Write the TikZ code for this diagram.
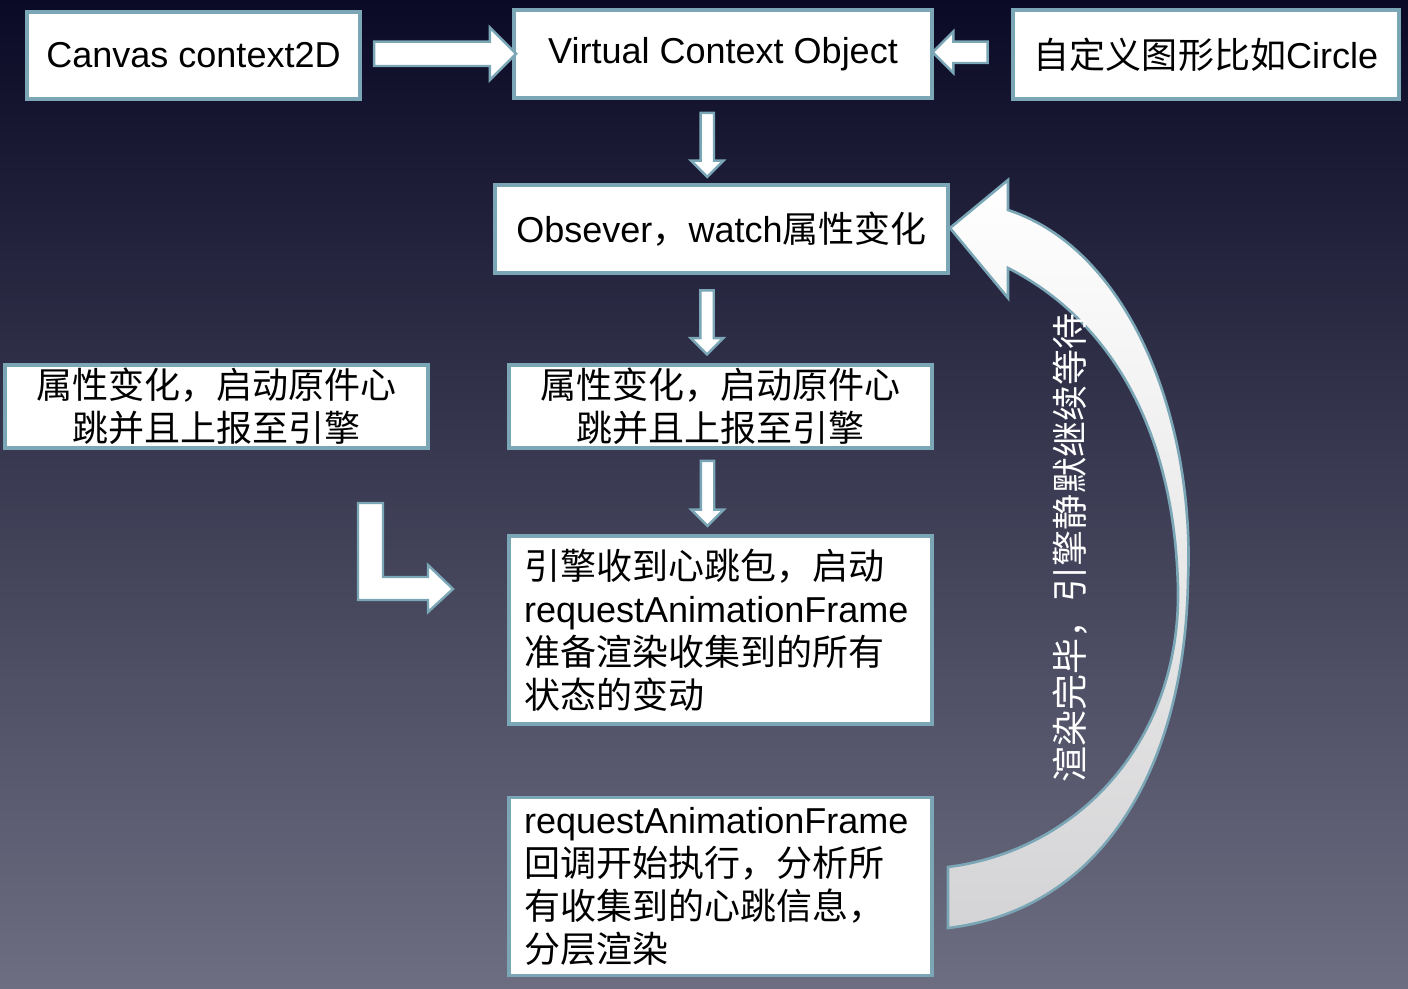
\documentclass[tikz,border=0pt]{standalone}
\usepackage{fontspec}
\setmainfont{Liberation Sans}
\newfontfamily\cjk{Noto Sans CJK SC}
\usepackage{tikz}
\usetikzlibrary{calc, shapes.arrows}
\definecolor{edgeblue}{RGB}{122,166,182}
\definecolor{bgtop}{RGB}{10,10,38}
\definecolor{bgmid}{RGB}{60,58,90}
\definecolor{bgbot}{RGB}{110,110,130}
\definecolor{tailgray}{RGB}{212,212,214}
\newcommand{\zh}[1]{{\cjk #1}}
\tikzset{
  box/.style={draw=edgeblue, line width=2pt, fill=white, inner sep=0pt, align=center,
    font=\fontsize{20.5}{24.5}\selectfont},
  widebox/.style={box, minimum width=8.46cm},
  textbox/.style={widebox, text width=7.86cm, align=left},
  blockarr/.style={single arrow, draw=edgeblue, fill=white, line width=1.4pt,
    inner xsep=0pt, single arrow head indent=0pt},
}

\begin{document}
\begin{tikzpicture}[x=0.02cm, y=-0.02cm]
    \shade[top color=bgtop, middle color=bgmid, bottom color=bgbot] (0,0) rectangle (1408,988);
    \useasboundingbox (0,0) rectangle (1408,988);

    \node[box, minimum width=6.66cm, minimum height=1.74cm] (canvas) at (193.5,55.5) {Canvas context2D};
    \node[box, minimum width=8.36cm, minimum height=1.76cm] (vco) at (723,54) {Virtual Context Object};
    \node[box, minimum width=7.72cm, minimum height=1.78cm] (custom) at (1206,54.5) {\zh{自定义图形比如}Circle};
    \node[box, minimum width=9.06cm, minimum height=1.76cm] (obs) at (721.5,229) {Obsever\zh{，}watch\zh{属性变化}};
    \node[widebox, minimum height=1.66cm] (beatL) at (216.5,406.5) {\zh{属性变化，启动原件心}\\\zh{跳并且上报至引擎}};
    \node[widebox, minimum height=1.66cm] (beat) at (720.5,406.5) {\zh{属性变化，启动原件心}\\\zh{跳并且上报至引擎}};
    \node[textbox, minimum height=3.76cm] (engine) at (720.5,630) {\zh{引擎收到心跳包，启动}\\requestAnimationFrame\\\zh{准备渲染收集到的所有}\\\zh{状态的变动}};
    \node[textbox, minimum height=3.56cm] (raf) at (720.5,886.5) {requestAnimationFrame\\\zh{回调开始执行，分析所}\\\zh{有收集到的心跳信息，}\\\zh{分层渲染}};

    % block arrows between the boxes
    \node[blockarr, minimum height=2.84cm, inner ysep=0.22cm, single arrow head extend=0.28cm] (toVco) at ($(canvas.east)!0.5!(vco.west)+(2,-1)$) {};
    \node[blockarr, minimum height=1.1cm, inner ysep=0.19cm, single arrow head extend=0.2cm, rotate=180] (fromCustom) at ($(vco.east)!0.5!(custom.west)+(-7,-2)$) {};
    \node[blockarr, minimum height=1.28cm, inner ysep=0.11cm, single arrow head extend=0.19cm, rotate=-90] (toObs) at ($(vco.south)!0.5!(obs.north)+(-15,0)$) {};
    \node[blockarr, minimum height=1.28cm, inner ysep=0.11cm, single arrow head extend=0.19cm, rotate=-90] (toBeat) at ($(obs.south)!0.5!(beat.north)+(-14,0)$) {};
    \node[blockarr, minimum height=1.3cm, inner ysep=0.11cm, single arrow head extend=0.19cm, rotate=-90] (toEngine) at ($(beat.south)!0.5!(engine.north)+(-13,-2)$) {};

    % bent arrow from the left box
    \draw[fill=white, draw=edgeblue, line width=1.4pt]
      (358,503) -- (383,503) -- (383,577) -- (428,577) -- (428,565) -- (453,589)
      -- (428,612) -- (428,600) -- (358,600) -- cycle;

    % curved arrow back to the observer
    \shadedraw[top color=white, bottom color=tailgray, draw=edgeblue, line width=1.5pt]
      (1008,210) .. controls (1130,250) and (1195,420) .. (1188,580)
      .. controls (1185,770) and (1100,910) .. (948,928)
      -- (948,867)
      .. controls (1080,850) and (1180,740) .. (1178,590)
      .. controls (1175,430) and (1110,320) .. (1008,268)
      -- (1008,298) -- (950,228) -- (1008,180) -- cycle;
    \node[rotate=90, text=white, font=\fontsize{20.5}{24.5}\selectfont] (waitnote) at (1070,548) {\zh{渲染完毕，引擎静默继续等待}};
\end{tikzpicture}
\end{document}
